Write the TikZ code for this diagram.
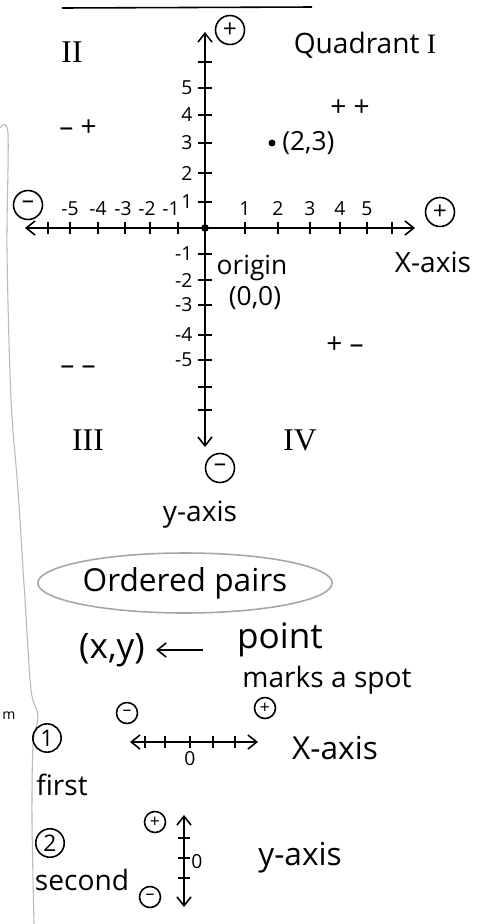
\documentclass[tikz,border=0pt]{standalone}
\usepackage{fontspec}
\setmainfont{Open Sans}
\newfontfamily\numeral{Liberation Serif}
\usetikzlibrary{arrows.meta, positioning, shapes.geometric}
\newcommand{\fsz}[1]{\fontsize{#1}{#1}\selectfont}

\begin{document}
\begin{tikzpicture}[x=0.02cm, y=-0.02cm, line width=0.9pt, >={Straight Barb[length=5pt,width=8pt]},
    hand/.style={font=\fsz{16}, inner sep=1pt},
    roman/.style={font=\numeral\fsz{18}, inner sep=1pt},
    small/.style={font=\fsz{11}, inner sep=1pt},
    sign/.style={draw, circle, minimum size=0.58cm, inner sep=0pt, font=\fsz{14}},
    tinysign/.style={draw, circle, minimum size=0.42cm, inner sep=0pt, font=\fsz{10}}]
    \useasboundingbox (0,0) rectangle (494,924);

    % margin of the page
    \draw[gray!55, line width=0.6pt] plot[smooth] coordinates {(0,128) (8,134) (7,250) (11,400) (18,490) (25,600) (31,690) (38,716) (33,745) (32,820) (34,924)};
    \node[small, font=\fsz{8}] (edge) at (9,716) {m};
    \draw (62,8) -- (312,7);

    % the plane
    \coordinate (O) at (205,228);
    \coordinate (xl) at (25,228);
    \coordinate (xr) at (415,228);
    \coordinate (yt) at (205,32);
    \coordinate (yb) at (205,447);
    \draw[<->] (xl) -- (xr);
    \draw[<->] (yt) -- (yb);
    \fill (O) circle (2.2pt);

    \foreach \x/\lab/\lx in {245/1/245, 278/2/278, 310/3/310, 340/4/340, 367/5/367, 178/-1/171, 150/-2/147, 125/-3/123, 98/-4/98, 70/-5/70}
    {
        \draw (\x,222) -- (\x,234);
        \node[small, above] (xlab\lab) at (\lx,218) {\lab};
    }
    \foreach \x in {48, 392}
        \draw (\x,222) -- (\x,234);
    \foreach \y/\lab in {88/5, 115/4, 143/3, 173/2, 202/1, 254/-1, 280/-2, 305/-3, 335/-4, 360/-5}
    {
        \draw (198,\y) -- (212,\y);
        \node[small, left] (ylab\lab) at (195,\y) {\lab};
    }
    \foreach \y in {62, 387, 410}
        \draw (198,\y) -- (212,\y);

    \node[sign] (ytop) at (230,30) {+};
    \node[sign] (xneg) at (28,205) {--};
    \node[sign] (xpos) at (440,212) {+};
    \node[sign] (ybot) at (220,468) {--};

    \node[hand] (quad1) at (365,45) {Quadrant \numeral I};
    \node[roman] (quad2) at (72,52) {II};
    \node[roman] (quad3) at (88,440) {III};
    \node[roman] (quad4) at (300,440) {IV};
    \node[hand] (sgn1) at (350,108) {+ +};
    \node[hand] (sgn2) at (78,128) {-- +};
    \node[hand] (sgn3) at (78,370) {-- --};
    \node[hand] (sgn4) at (345,345) {+ --};

    \node[circle, fill, inner sep=1.4pt] (pnt) at (272,143) {};
    \node[hand, font=\fsz{15}, right=2pt of pnt] (pntlab) {(2,3)};
    \node[hand, font=\fsz{15}] (orig) at (252,268) {origin};
    \node[hand, font=\fsz{15}] (origlab) at (255,298) {(0,0)};
    \node[hand] (xaxis) at (433,262) {X-axis};
    \node[hand] (yaxis) at (200,515) {y-axis};

    % ordered pairs
    \node[hand, font=\fsz{18}, draw=gray!70, ellipse, minimum width=5.6cm, minimum height=1.2cm] (pairs) at (185,583) {Ordered pairs};
    \node[hand, font=\fsz{20}] (xy) at (112,650) {(x,y)};
    \node[hand, font=\fsz{20}] (pointtxt) at (280,640) {point};
    \node[hand] (spot) at (327,680) {marks a spot};
    \draw[->, shorten <=18pt, shorten >=5pt] (pointtxt.west |- xy.east) -- (xy.east);

    % first: x
    \node[draw, circle, inner sep=1.5pt, font=\fsz{13}] (one) at (47,738) {1};
    \node[hand] (first) at (62,785) {first};
    \coordinate (sxl) at (130,742);
    \coordinate (sxr) at (258,742);
    \draw[<->] (sxl) -- (sxr);
    \foreach \x in {145, 165, 190, 213, 235}
        \draw (\x,736) -- (\x,748);
    \node[small] (szero) at (190,759) {0};
    \node[tinysign] (sxneg) at (127,713) {--};
    \node[tinysign] (sxpos) at (265,708) {+};
    \node[hand, font=\fsz{18}] (xaxis2) at (335,748) {X-axis};

    % second: y
    \node[draw, circle, inner sep=1.5pt, font=\fsz{13}] (two) at (50,843) {2};
    \node[hand] (second) at (82,880) {second};
    \coordinate (syt) at (184,815);
    \coordinate (syb) at (184,907);
    \draw[<->] (syt) -- (syb);
    \foreach \y in {838, 858, 878}
        \draw (178,\y) -- (190,\y);
    \node[small] (szero2) at (197,862) {0};
    \node[tinysign] (sypos) at (155,822) {+};
    \node[tinysign] (syneg) at (150,897) {--};
    \node[hand, font=\fsz{18}] (yaxis2) at (300,858) {y-axis};
\end{tikzpicture}
\end{document}
